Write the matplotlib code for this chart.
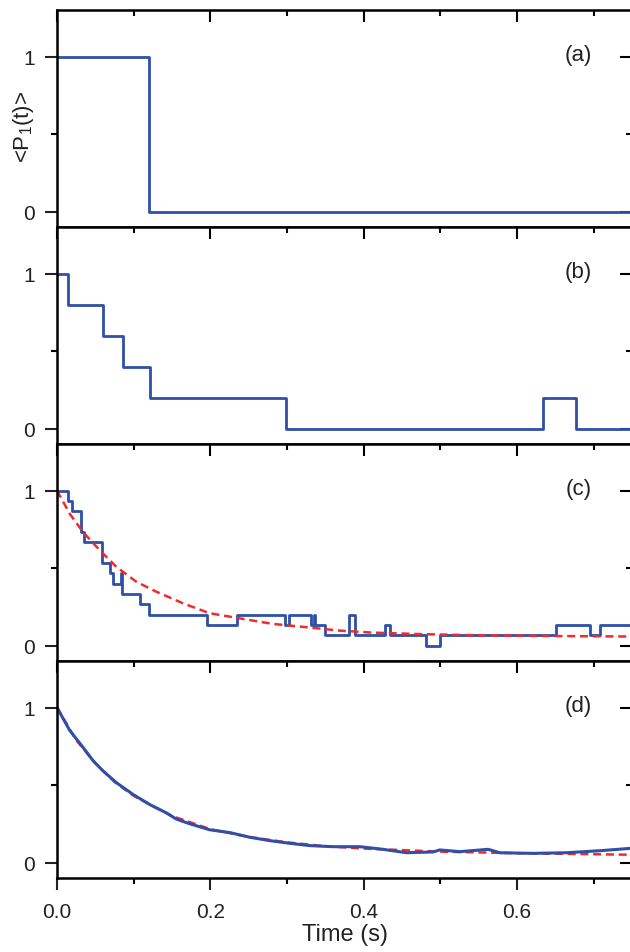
import numpy as np
import matplotlib.pyplot as plt
from matplotlib.ticker import MultipleLocator, FormatStrFormatter

plt.rcParams['font.family'] = ['Liberation Sans', 'DejaVu Sans']
plt.rcParams['mathtext.fontset'] = 'custom'
plt.rcParams['mathtext.rm'] = 'Liberation Sans'
plt.rcParams['mathtext.it'] = 'Liberation Sans:italic'

BLUE = "#2f4fa8"
RED = "#f22a2a"
TXT = "#222222"

# ---- Data ----
# (a) single molecule
t_a = [0.0, 0.12, 0.75]
p_a = [1.0, 0.0, 0.0]

# (b) five molecules
t_b = [0.0, 0.0146, 0.0598, 0.0858, 0.1207, 0.299, 0.6345, 0.677, 0.75]
p_b = [1.0, 0.8, 0.6, 0.4, 0.2, 0.0, 0.2, 0.0, 0.0]

# (c) fifteen molecules, counts still in state 1
t_c = [0.0, 0.0144, 0.0201, 0.0318, 0.0350, 0.0588, 0.0696, 0.0731, 0.0831,
       0.0853, 0.1079, 0.1201, 0.1958, 0.2349, 0.2978, 0.3021, 0.3318, 0.3350,
       0.3362, 0.3493, 0.3810, 0.3884, 0.4275, 0.4349, 0.4819, 0.4993, 0.6515,
       0.6950, 0.7089, 0.75]
n_c = [15, 14, 13, 11, 10, 8, 7, 6, 7,
       5, 4, 3, 2, 3, 2, 3, 2, 3,
       2, 1, 3, 1, 2, 1, 0, 1, 2,
       1, 2, 2]
p_c = np.array(n_c) / 15.0

fit_c_t = [0.0, 0.0166, 0.0339, 0.0557, 0.0775, 0.1036, 0.1296, 0.1644, 0.1992,
           0.2384, 0.2818, 0.3253, 0.3688, 0.4122, 0.4774, 0.55, 0.65, 0.75]
fit_c_p = [1.0, 0.85, 0.732, 0.615, 0.507, 0.411, 0.347, 0.272, 0.208,
           0.175, 0.139, 0.118, 0.096, 0.083, 0.073, 0.066, 0.061, 0.058]

# (d) many molecules
t_d = [0.0, 0.0166, 0.0339, 0.047, 0.06, 0.0775, 0.0992, 0.1209, 0.1427, 0.1557,
       0.1731, 0.1992, 0.2253, 0.2514, 0.2775, 0.3036, 0.3297, 0.36, 0.3949,
       0.4253, 0.4558, 0.4906, 0.4993, 0.5254, 0.5624, 0.5776, 0.6211, 0.6646,
       0.7081, 0.7473]
p_d = [1.0, 0.852, 0.743, 0.657, 0.591, 0.515, 0.439, 0.374, 0.32, 0.28,
       0.25, 0.211, 0.193, 0.163, 0.141, 0.124, 0.109, 0.102, 0.102,
       0.085, 0.063, 0.068, 0.081, 0.07, 0.085, 0.063, 0.059, 0.063,
       0.076, 0.091]

fit_d_t = [0.0, 0.025, 0.05, 0.075, 0.1, 0.15, 0.2, 0.25, 0.3, 0.35, 0.4, 0.5, 0.6, 0.75]
fit_d_p = [1.0, 0.79, 0.64, 0.52, 0.43, 0.30, 0.215, 0.165, 0.13, 0.105, 0.09, 0.07, 0.06, 0.05]

labels = ["(a)", "(b)", "(c)", "(d)"]

# ---- Layout ----
fig = plt.figure(figsize=(6.3, 9.53), dpi=100)
left, width = 57 / 630, 575 / 630
height = 217 / 953
bottoms = [1 - 228 / 953, 1 - 445 / 953, 1 - 662 / 953, 1 - 879 / 953]

MAJ, MIN, TW = 8.6, 4.5, 1.5

axes = []
for i, b in enumerate(bottoms):
    ax = fig.add_axes([left, b, width, height])
    axes.append(ax)
    ax.set_xlim(0, 0.75)
    ax.set_ylim(-0.1, 1.3)
    for s in ax.spines.values():
        s.set_linewidth(1.8)
    ax.xaxis.set_major_locator(MultipleLocator(0.2))
    ax.xaxis.set_minor_locator(MultipleLocator(0.1))
    ax.xaxis.set_major_formatter(FormatStrFormatter('%.1f'))
    ax.yaxis.set_major_locator(MultipleLocator(1))
    ax.yaxis.set_minor_locator(MultipleLocator(0.5))
    ax.tick_params(which='major', length=MAJ, width=TW, labelsize=15, colors=TXT)
    ax.tick_params(which='minor', length=MIN, width=TW)
    ax.tick_params(axis='y', which='both', left=True, right=False, direction='out', pad=7)
    ax.tick_params(axis='x', which='both', top=False, direction='out', pad=9,
                   bottom=(i == 3), labelbottom=(i == 3))

    # top ticks pointing inward
    top = ax.secondary_xaxis('top')
    top.xaxis.set_major_locator(MultipleLocator(0.2))
    top.xaxis.set_minor_locator(MultipleLocator(0.1))
    top.tick_params(which='major', direction='in', length=MAJ, width=TW, labeltop=False)
    top.tick_params(which='minor', direction='in', length=MIN, width=TW)
    top.spines['top'].set_visible(False)

    # right ticks pointing inward
    sec = ax.secondary_yaxis('right')
    sec.yaxis.set_major_locator(MultipleLocator(1))
    sec.yaxis.set_minor_locator(MultipleLocator(0.5))
    sec.tick_params(which='major', direction='in', length=MAJ, width=TW, labelright=False)
    sec.tick_params(which='minor', direction='in', length=MIN, width=TW)
    sec.spines['right'].set_visible(False)

    ax.text(0.68, 1.01, labels[i], fontsize=16, ha='center', va='center', color=TXT)

axes[0].step(t_a, p_a, where='post', color=BLUE, lw=2.0)
axes[1].step(t_b, p_b, where='post', color=BLUE, lw=2.0)
axes[2].step(t_c, p_c, where='post', color=BLUE, lw=2.0)
axes[2].plot(fit_c_t, fit_c_p, color=RED, lw=1.8, dashes=(3.2, 1.9))
axes[3].plot(fit_d_t, fit_d_p, color=RED, lw=1.8, dashes=(3.2, 1.9))
axes[3].plot(t_d, p_d, color=BLUE, lw=2.2)

axes[3].set_xlabel("Time (s)", fontsize=17, labelpad=1, color=TXT)

fig.text(24 / 630, 1 - 127 / 953, r"<P$_1$(t)>", rotation=90, fontsize=16,
         ha='center', va='center', color=TXT)

fig.savefig("out.png", dpi=100)
